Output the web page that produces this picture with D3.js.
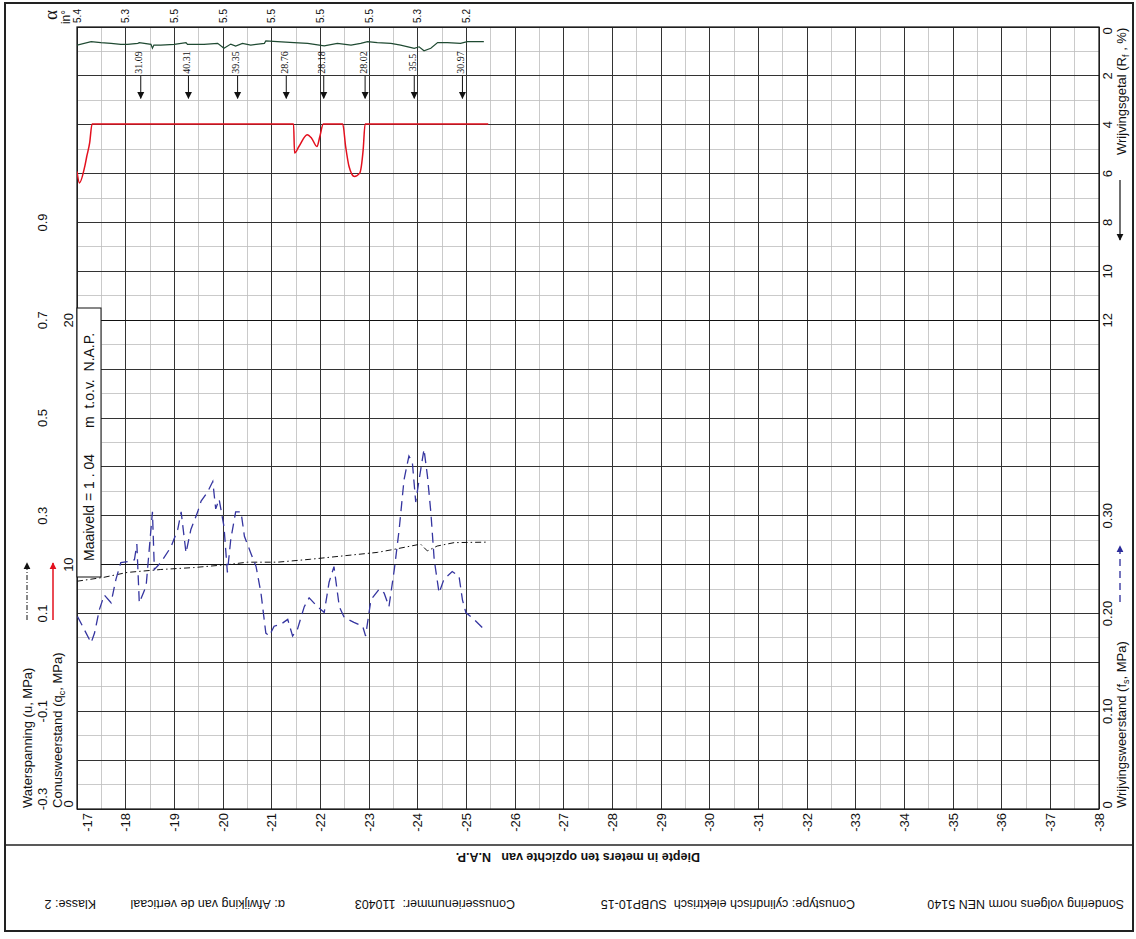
<!DOCTYPE html>
<meta charset="utf-8">
<style>
body { margin: 0; background: #fff; }
svg { font-family: "Liberation Sans", Arial, sans-serif; }
svg text { white-space: pre; }
.minor { stroke: #bdbdbd; stroke-width: 0.8; shape-rendering: crispEdges; }
.major { stroke: #333; stroke-width: 1; shape-rendering: crispEdges; }
.heavy { stroke: #111; stroke-width: 1.4; shape-rendering: crispEdges; }
</style>
<body>
<script src="https://cdn.jsdelivr.net/npm/d3@7"></script>
<script>

// depth ticks (m t.o.v. N.A.P.)
var depthTicks = d3.range(-17, -39, -1);

// inclination labels along the top
var tiltDepths = [-17, -18, -19, -20, -21, -22, -23, -24, -25];
var tiltLabels = ["5.4", "5.3", "5.5", "5.5", "5.5", "5.5", "5.5", "5.3", "5.2"];

// off-scale qc peaks
var peakDepths = [-18.31, -19.29, -20.30, -21.30, -22.07, -22.92, -23.93, -24.92];
var peakLabels = ["31.09", "40.31", "39.35", "28.76", "28.18", "28.02", "35.5", "30.97"];

// conusweerstand qc (MPa)
var qcDepth = [-17.00, -17.05, -17.16, -17.20, -17.26, -17.31, -21.45, -21.47, -21.56, -21.73, -21.82, -21.93, -21.99, -22.06, -22.46, -22.52, -22.59, -22.70, -22.81, -22.88, -22.92, -25.45];
var qcValue = [26.09, 25.62, 26.30, 26.70, 27.26, 28.03, 28.03, 26.84, 27.11, 27.59, 27.45, 27.11, 27.52, 28.03, 28.03, 27.11, 26.29, 25.88, 26.02, 26.97, 28.03, 28.03];

// wrijvingsgetal Rf (%)
var rfDepth = [-17.00, -17.29, -17.49, -17.70, -17.90, -18.04, -18.25, -18.28, -18.52, -18.55, -18.58, -18.72, -19.00, -19.24, -19.27, -19.61, -19.89, -20.02, -20.16, -20.26, -20.40, -20.57, -20.85, -20.88, -21.12, -21.46, -21.74, -22.08, -22.35, -22.63, -22.83, -22.97, -23.17, -23.45, -23.65, -23.93, -24.03, -24.13, -24.27, -24.41, -24.61, -24.88, -25.02, -25.36];
var rfValue = [0.74, 0.60, 0.64, 0.67, 0.71, 0.71, 0.67, 0.64, 0.71, 0.87, 0.74, 0.74, 0.71, 0.64, 0.71, 0.71, 0.67, 0.87, 0.70, 0.78, 0.67, 0.74, 0.67, 0.57, 0.60, 0.64, 0.67, 0.77, 0.67, 0.74, 0.67, 0.60, 0.64, 0.67, 0.74, 0.87, 0.81, 0.97, 0.87, 0.64, 0.64, 0.67, 0.60, 0.60];

// wrijvingsweerstand fs (MPa)
var fsDepth = [-17.01, -17.29, -17.36, -17.46, -17.56, -17.70, -17.80, -17.90, -18.04, -18.18, -18.23, -18.28, -18.42, -18.55, -18.59, -18.72, -18.93, -19.07, -19.14, -19.24, -19.34, -19.48, -19.55, -19.68, -19.79, -19.85, -19.92, -20.02, -20.09, -20.16, -20.26, -20.37, -20.44, -20.57, -20.68, -20.78, -20.88, -20.95, -21.05, -21.19, -21.33, -21.43, -21.53, -21.67, -21.77, -21.94, -22.08, -22.18, -22.28, -22.39, -22.49, -22.69, -22.87, -22.93, -23.04, -23.21, -23.31, -23.41, -23.52, -23.62, -23.72, -23.82, -23.89, -23.96, -24.03, -24.13, -24.20, -24.27, -24.34, -24.44, -24.54, -24.71, -24.85, -24.92, -24.99, -25.16, -25.36];
var fsValue = [0.197, 0.170, 0.180, 0.204, 0.219, 0.211, 0.235, 0.252, 0.253, 0.255, 0.271, 0.211, 0.228, 0.304, 0.245, 0.252, 0.268, 0.286, 0.304, 0.262, 0.286, 0.304, 0.315, 0.324, 0.335, 0.307, 0.317, 0.289, 0.242, 0.276, 0.304, 0.304, 0.279, 0.262, 0.248, 0.221, 0.180, 0.177, 0.187, 0.189, 0.194, 0.177, 0.184, 0.207, 0.216, 0.207, 0.201, 0.232, 0.248, 0.207, 0.196, 0.191, 0.187, 0.177, 0.214, 0.225, 0.221, 0.207, 0.245, 0.286, 0.337, 0.361, 0.355, 0.314, 0.337, 0.368, 0.341, 0.304, 0.255, 0.221, 0.235, 0.243, 0.238, 0.214, 0.201, 0.194, 0.184];

// waterspanning u (MPa)
var uDepth = [-17.00, -17.55, -18.03, -18.72, -19.40, -20.09, -20.50, -21.12, -21.80, -22.48, -23.17, -23.50, -23.86, -24.06, -24.20, -24.40, -24.75, -25.43];
var uValue = [0.166, 0.174, 0.184, 0.190, 0.194, 0.200, 0.205, 0.205, 0.211, 0.218, 0.225, 0.231, 0.238, 0.242, 0.228, 0.238, 0.245, 0.246];

var uTicks = [-0.3, -0.1, 0.1, 0.3, 0.5, 0.7, 0.9];
var qcTicks = [0, 10, 20];
var rfTicks = [0, 2, 4, 6, 8, 10, 12];
var fsTicks = [0, 0.1, 0.2, 0.3];
var fsTickLabels = ["0", "0.10", "0.20", "0.30"];

var W = 1136, H = 939;
var pL = 77, pR = 1099, pT = 27, pB = 809;

var x = d3.scaleLinear().domain([-17, -38]).range([pL, pR]);
var yQc = d3.scaleLinear().domain([0, 32]).range([pB, pT]);
var yU = d3.scaleLinear().domain([-0.3, 1.3]).range([pB, pT]);
var yFs = d3.scaleLinear().domain([0, 0.8]).range([pB, pT]);
var yRf = d3.scaleLinear().domain([0, 32]).range([pT, pB]);

var svg = d3.select("body").append("svg")
  .attr("width", W)
  .attr("height", H);

var defs = svg.append("defs");
defs.append("clipPath").attr("id", "plotclip")
  .append("rect").attr("x", pL).attr("y", pT).attr("width", pR - pL).attr("height", pB - pT);
function marker(id, color) {
  defs.append("marker").attr("id", id)
    .attr("viewBox", "0 0 10 10").attr("refX", 9).attr("refY", 5)
    .attr("markerWidth", 7).attr("markerHeight", 8).attr("orient", "auto")
    .attr("markerUnits", "userSpaceOnUse")
    .append("path").attr("d", "M0,0L10,5L0,10Z").attr("fill", color);
}
marker("ahBlack", "#111");
marker("ahRed", "#e3101e");
marker("ahBlue", "#2b2b9a");

// outer frame
svg.append("rect").attr("x", 5).attr("y", 3).attr("width", 1128).attr("height", 928)
  .attr("fill", "none").attr("stroke", "#222").attr("stroke-width", 2);
svg.append("line").attr("x1", 5).attr("x2", 1133).attr("y1", 845).attr("y2", 845)
  .attr("stroke", "#222").attr("stroke-width", 1.5);

// grid
var grid = svg.append("g");
var minorDepth = d3.range(-17.5, -38, -1);
grid.selectAll(".vmin").data(minorDepth).enter().append("line")
  .attr("class", "minor").attr("x1", x).attr("x2", x).attr("y1", pT).attr("y2", pB);
var rfMinor = d3.range(1, 32, 2);
grid.selectAll(".hmin").data(rfMinor).enter().append("line")
  .attr("class", "minor").attr("x1", pL).attr("x2", pR).attr("y1", yRf).attr("y2", yRf);
grid.selectAll(".vmaj").data(depthTicks).enter().append("line")
  .attr("class", "major").attr("x1", x).attr("x2", x).attr("y1", pT).attr("y2", pB);
var rfMajor = d3.range(0, 33, 2);
grid.selectAll(".hmaj").data(rfMajor).enter().append("line")
  .attr("class", "major").attr("x1", pL).attr("x2", pR).attr("y1", yRf).attr("y2", yRf);
grid.selectAll(".hhv").data([10, 20]).enter().append("line")
  .attr("class", "heavy").attr("x1", pL).attr("x2", pR).attr("y1", yQc).attr("y2", yQc);
grid.append("rect").attr("x", pL).attr("y", pT).attr("width", pR - pL).attr("height", pB - pT)
  .attr("fill", "none").attr("stroke", "#111").attr("stroke-width", 1.2);

function vtext(g, px, py, str, size, anchor) {
  return g.append("text")
    .attr("transform", "translate(" + px + "," + py + ") rotate(-90)")
    .attr("text-anchor", anchor || "middle")
    .attr("dy", "0.35em")
    .attr("font-size", size)
    .attr("fill", "#111")
    .text(str);
}

var lab = svg.append("g");

// depth tick labels
depthTicks.forEach(function(d, i) {
  vtext(lab, x(d) + (i === 0 ? 10 : 0), 813, String(d), 13, "end");
});

// inclination labels
tiltDepths.forEach(function(d, i) {
  vtext(lab, x(d), 16, tiltLabels[i], 10, "middle");
});
vtext(lab, 50, 15, "\u03b1", 19, "middle").attr("font-family", "Liberation Serif, serif");
vtext(lab, 66, 17, "in\u00b0", 12, "middle");

// left axis labels
uTicks.forEach(function(v) {
  var py = v === -0.3 ? yU(v) - 10 : yU(v);
  vtext(lab, 42, py, String(v), 13, "middle");
});
qcTicks.forEach(function(v) {
  vtext(lab, 68, v === 0 ? pB - 5 : yQc(v), String(v), 13, "middle");
});
vtext(lab, 27, 808, "Waterspanning (u, MPa)", 13, "start");
var cw = vtext(lab, 57, 808, "", 13, "start");
cw.append("tspan").text("Conusweerstand (q");
cw.append("tspan").attr("font-size", 9).attr("dy", "3").text("c");
cw.append("tspan").attr("dy", "-3").text(", MPa)");

lab.append("line").attr("x1", 27).attr("x2", 27).attr("y1", 620).attr("y2", 563)
  .attr("stroke", "#111").attr("stroke-width", 1).attr("stroke-dasharray", "5,2,1,2")
  .attr("marker-end", "url(#ahBlack)");
lab.append("line").attr("x1", 53).attr("x2", 53).attr("y1", 620).attr("y2", 563)
  .attr("stroke", "#e3101e").attr("stroke-width", 1.5)
  .attr("marker-end", "url(#ahRed)");

// right axis labels
rfTicks.forEach(function(v) {
  vtext(lab, 1107, v === 0 ? pT + 4 : yRf(v), String(v), 13, "middle");
});
fsTicks.forEach(function(v, i) {
  vtext(lab, 1107, v === 0 ? pB - 4 : yFs(v), fsTickLabels[i], 13, "middle");
});
var wg = vtext(lab, 1121, 155, "", 13, "start");
wg.append("tspan").text("Wrijvingsgetal (R");
wg.append("tspan").attr("font-size", 9).attr("dy", "3").text("f");
wg.append("tspan").attr("dy", "-3").text(" , %)");
lab.append("line").attr("x1", 1120).attr("x2", 1120).attr("y1", 180).attr("y2", 240)
  .attr("stroke", "#111").attr("stroke-width", 1.2).attr("marker-end", "url(#ahBlack)");
var ws = vtext(lab, 1121, 808, "", 13, "start");
ws.append("tspan").text("Wrijvingsweerstand (f");
ws.append("tspan").attr("font-size", 9).attr("dy", "3").text("s");
ws.append("tspan").attr("dy", "-3").text(", MPa)");
lab.append("line").attr("x1", 1120).attr("x2", 1120).attr("y1", 602).attr("y2", 546)
  .attr("stroke", "#2b2b9a").attr("stroke-width", 1.3).attr("stroke-dasharray", "7,5")
  .attr("marker-end", "url(#ahBlue)");

// series
var plot = svg.append("g").attr("clip-path", "url(#plotclip)");
function series(depths, vals, yScale) {
  return depths.map(function(d, i) { return [x(d), yScale(vals[i])]; });
}
var line = d3.line();
plot.append("path").attr("d", line(series(uDepth, uValue, yU)))
  .attr("fill", "none").attr("stroke", "#111").attr("stroke-width", 1)
  .attr("stroke-dasharray", "6,3,1.5,3");
plot.append("path").attr("d", line(series(fsDepth, fsValue, yFs)))
  .attr("fill", "none").attr("stroke", "#3535a0").attr("stroke-width", 1.3)
  .attr("stroke-dasharray", "10,6");
plot.append("path").attr("d", d3.line().curve(d3.curveMonotoneX)(series(qcDepth, qcValue, yQc)))
  .attr("fill", "none").attr("stroke", "#e3101e").attr("stroke-width", 1.5);
plot.append("path").attr("d", line(series(rfDepth, rfValue, yRf)))
  .attr("fill", "none").attr("stroke", "#1f4a32").attr("stroke-width", 1.2);

// off-scale peaks
peakDepths.forEach(function(d, i) {
  var px = x(d);
  plot.append("line").attr("x1", px).attr("x2", px).attr("y1", yQc(30)).attr("y2", yQc(29.08))
    .attr("stroke", "#111").attr("stroke-width", 1).attr("marker-end", "url(#ahBlack)");
  vtext(plot, px - 2, yQc(30.55), peakLabels[i], 10, "middle")
    .attr("font-family", "Liberation Serif, serif");
});

// maaiveld box
svg.append("rect").attr("x", pL).attr("y", 308).attr("width", 24).attr("height", 269)
  .attr("fill", "#fff").attr("stroke", "#111").attr("stroke-width", 1);
vtext(svg, 89, 561, "Maaiveld = 1 . 04", 14, "start");
vtext(svg, 89, 428, "m  t.o.v.  N.A.P.", 14, "start");

// footer, printed upside down
function flipped(px, py, str, weight) {
  return svg.append("text")
    .attr("transform", "translate(" + px + "," + py + ") rotate(180)")
    .attr("text-anchor", "start")
    .attr("font-size", 12.5)
    .attr("font-weight", weight || "normal")
    .attr("fill", "#111")
    .text(str);
}
flipped(700, 853, "Diepte in meters ten opzichte van   N.A.P.", "bold");
flipped(1124, 900, "Sondering volgens norm NEN 5140");
flipped(855, 900, "Conustype: cylindrisch elektrisch  SUBP10-15");
flipped(515, 900, "Conusserienummer:  110403");
flipped(285, 900, "\u03b1: Afwijking van de verticaal");
flipped(96, 900, "Klasse: 2");

</script>
